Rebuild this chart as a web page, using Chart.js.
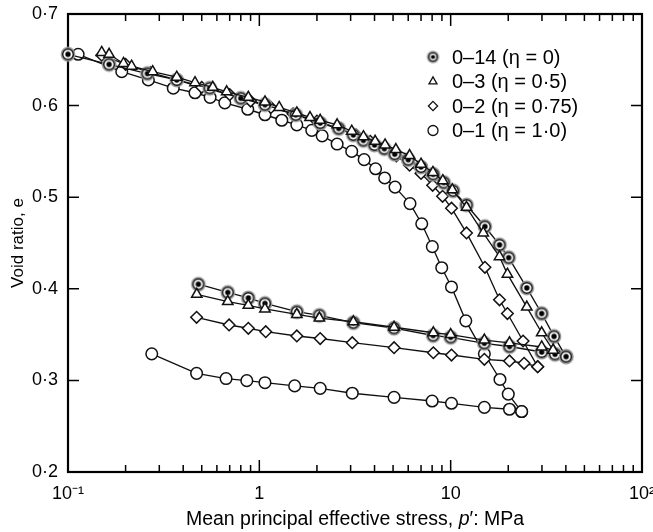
<!DOCTYPE html>
<html>
<head>
<meta charset="utf-8">
<script src="https://cdn.jsdelivr.net/npm/chart.js@4.4.1/dist/chart.umd.min.js"></script>
<style>
  html, body { margin: 0; padding: 0; background: #fff; }
</style>
</head>
<body>
<canvas id="chart" width="653" height="532"></canvas>
<script>
// Test 0-14 (eta = 0)
const pLoad14 = [0.1, 0.164, 0.26, 0.37, 0.55, 0.80, 1.07, 1.55, 2.08, 2.6, 3.1, 3.5, 4.0, 4.5, 5.1, 6.0, 7.0, 8.1, 9.2, 10.3, 12.1, 15.1, 18.0, 20.1, 25.0, 29.9, 34.7, 40.1];
const eLoad14 = [0.656, 0.645, 0.635, 0.628, 0.619, 0.608, 0.601, 0.590, 0.581, 0.575, 0.568, 0.562, 0.557, 0.553, 0.547, 0.541, 0.533, 0.525, 0.516, 0.507, 0.4915, 0.468, 0.448, 0.434, 0.401, 0.373, 0.348, 0.326];
const pUnload14 = [40.1, 35.1, 29.9, 20.3, 15.0, 10.0, 8.1, 5.06, 3.1, 2.06, 1.57, 1.07, 0.876, 0.684, 0.48];
const eUnload14 = [0.326, 0.3285, 0.331, 0.337, 0.3405, 0.347, 0.349, 0.357, 0.363, 0.371, 0.375, 0.384, 0.390, 0.396, 0.405];

// Test 0-3 (eta = 0.5)
const pLoad3 = [0.150, 0.164, 0.195, 0.215, 0.277, 0.370, 0.461, 0.571, 0.675, 0.876, 1.07, 1.27, 1.57, 1.84, 2.08, 2.55, 3.04, 3.50, 4.03, 4.54, 5.17, 6.10, 7.0, 8.08, 9.1, 10.2, 12.1, 14.8, 18.0, 19.8, 25.0, 29.9, 34.3];
const eLoad3 = [0.658, 0.656, 0.646, 0.643, 0.637, 0.631, 0.625, 0.620, 0.615, 0.609, 0.604, 0.598, 0.592, 0.587, 0.584, 0.579, 0.572, 0.566, 0.561, 0.557, 0.552, 0.5455, 0.536, 0.527, 0.518, 0.508, 0.489, 0.461, 0.435, 0.416, 0.380, 0.352, 0.333];
const pUnload3 = [34.3, 29.9, 20.3, 15.0, 10.0, 8.12, 5.06, 3.10, 2.06, 1.57, 1.07, 0.876, 0.684, 0.471];
const eUnload3 = [0.333, 0.3365, 0.341, 0.344, 0.350, 0.352, 0.358, 0.364, 0.368, 0.372, 0.378, 0.382, 0.386, 0.394];

// Test 0-2 (eta = 0.75)
const pLoad2 = [0.15, 0.2, 0.27, 0.37, 0.5, 0.7, 0.9, 1.15, 1.5, 2.0, 2.6, 3.2, 3.8, 4.5, 5.2, 6.1, 7.0, 8.05, 9.07, 10.1, 12.1, 15.1, 18.0, 19.8, 23.9, 28.5];
const eLoad2 = [0.655, 0.645, 0.636, 0.628, 0.620, 0.612, 0.605, 0.598, 0.591, 0.583, 0.575, 0.568, 0.561, 0.553, 0.545, 0.535, 0.526, 0.513, 0.501, 0.488, 0.461, 0.4235, 0.388, 0.373, 0.343, 0.315];
const pUnload2 = [28.5, 24.2, 20.3, 15.0, 10.1, 8.12, 5.06, 3.06, 2.08, 1.57, 1.08, 0.876, 0.695, 0.47];
const eUnload2 = [0.315, 0.3187, 0.3212, 0.323, 0.3277, 0.3302, 0.3357, 0.3412, 0.3457, 0.3485, 0.3532, 0.3569, 0.3605, 0.3689];

// Test 0-1 (eta = 1.0)
const pLoad1 = [0.113, 0.191, 0.263, 0.355, 0.461, 0.553, 0.66, 0.87, 1.07, 1.31, 1.57, 1.88, 2.13, 2.55, 3.04, 3.53, 4.05, 4.52, 5.12, 6.13, 7.06, 8.02, 8.98, 10.1, 12.0, 15.0, 18.1, 20.0, 23.5];
const eLoad1 = [0.656, 0.637, 0.628, 0.619, 0.614, 0.609, 0.603, 0.596, 0.590, 0.584, 0.579, 0.573, 0.567, 0.558, 0.550, 0.541, 0.531, 0.521, 0.511, 0.493, 0.471, 0.446, 0.423, 0.402, 0.365, 0.329, 0.301, 0.285, 0.266];
const pUnload1 = [23.5, 20.3, 15.0, 10.1, 8.0, 5.06, 3.06, 2.08, 1.53, 1.07, 0.86, 0.67, 0.47, 0.274];
const eUnload1 = [0.266, 0.2685, 0.2706, 0.275, 0.2775, 0.2815, 0.286, 0.2913, 0.294, 0.2975, 0.2997, 0.302, 0.3077, 0.329];

const legendLabels = ['0\u201314 (\u03b7 = 0)', '0\u20133 (\u03b7 = 0\u00b75)', '0\u20132 (\u03b7 = 0\u00b775)', '0\u20131 (\u03b7 = 1\u00b70)'];
const xTickValues = [0.1, 1, 10, 100];
const xTickLabels = ['10\u207b\u00b9', '1', '10', '10\u00b2'];
const yTickValues = [0.2, 0.3, 0.4, 0.5, 0.6, 0.7];

const FONT = '"Liberation Sans", Arial, Helvetica, sans-serif';
const INK = '#111';

// ringed marker with a solid centre, used for the eta = 0 test
function dotMarker(r) {
  const c = document.createElement('canvas');
  const s = Math.ceil(r * 2 + 6);
  c.width = s; c.height = s;
  const g = c.getContext('2d');
  const m = s / 2;
  g.fillStyle = '#fff';
  g.beginPath(); g.arc(m, m, r, 0, Math.PI * 2); g.fill();
  g.strokeStyle = '#9a9a9a'; g.lineWidth = 1.6;
  g.beginPath(); g.arc(m, m, r + 1, 0, Math.PI * 2); g.stroke();
  g.strokeStyle = INK; g.lineWidth = 1.4;
  g.beginPath(); g.arc(m, m, r - 0.3, 0, Math.PI * 2); g.stroke();
  g.fillStyle = '#000';
  g.beginPath(); g.arc(m, m, r * 0.48, 0, Math.PI * 2); g.fill();
  return c;
}
const dotBig = dotMarker(5.6);
const dotSmall = dotMarker(4.4);

const pts = (p, e) => p.map((v, i) => ({ x: v, y: e[i] }));

function series(p, e, style, radius, order) {
  return {
    data: pts(p, e),
    borderColor: INK,
    borderWidth: 1.35,
    pointStyle: style,
    pointRadius: radius,
    pointHoverRadius: radius,
    pointBackgroundColor: '#fff',
    pointBorderColor: INK,
    pointBorderWidth: 1.5,
    tension: 0,
    clip: false,
    order: order
  };
}

const datasets = [
  series(pLoad3, eLoad3, 'triangle', 6, 1),
  series(pUnload3, eUnload3, 'triangle', 6, 1),
  series(pLoad14, eLoad14, dotBig, 6, 2),
  series(pUnload14, eUnload14, dotBig, 6, 2),
  series(pLoad2, eLoad2, 'rectRot', 5.8, 3),
  series(pUnload2, eUnload2, 'rectRot', 5.8, 3),
  series(pLoad1, eLoad1, 'circle', 5.8, 4),
  series(pUnload1, eUnload1, 'circle', 5.8, 4)
];

// box frame and inward ticks on all four sides
const frame = {
  id: 'frame',
  beforeDatasetsDraw(chart) {
    const { ctx, chartArea: a, scales: { x, y } } = chart;
    ctx.save();
    ctx.strokeStyle = '#000';
    ctx.lineWidth = 1.5;
    ctx.beginPath();
    yTickValues.slice(1, -1).forEach(v => {
      const py = y.getPixelForValue(v);
      ctx.moveTo(a.left, py); ctx.lineTo(a.left + 11, py);
      ctx.moveTo(a.right, py); ctx.lineTo(a.right - 11, py);
    });
    for (let d = -1; d <= 1; d++) {
      for (let m = 1; m <= 9; m++) {
        if (d === -1 && m === 1) continue;
        const px = x.getPixelForValue(m * Math.pow(10, d));
        const len = m === 1 ? 12 : 7;
        ctx.moveTo(px, a.bottom); ctx.lineTo(px, a.bottom - len);
        ctx.moveTo(px, a.top); ctx.lineTo(px, a.top + len);
      }
    }
    ctx.stroke();
    ctx.lineWidth = 2.2;
    ctx.strokeRect(a.left, a.top, a.right - a.left, a.bottom - a.top);
    ctx.restore();
  },
  afterDraw(chart) {
    const { ctx, chartArea: a } = chart;
    ctx.save();
    // legend
    const rows = [57, 81.5, 106, 130.5];
    const mx = 433;
    ctx.fillStyle = '#000';
    ctx.font = '20px ' + FONT;
    ctx.textBaseline = 'middle';
    legendLabels.forEach((t, i) => ctx.fillText(t, 452, rows[i] + 1));
    ctx.strokeStyle = INK; ctx.lineWidth = 1.3; ctx.fillStyle = '#fff';
    ctx.drawImage(dotSmall, mx - dotSmall.width / 2, rows[0] - dotSmall.height / 2);
    const r = 4.6;
    ctx.beginPath();
    ctx.moveTo(mx, rows[1] - r);
    ctx.lineTo(mx + r * 0.866, rows[1] + r / 2);
    ctx.lineTo(mx - r * 0.866, rows[1] + r / 2);
    ctx.closePath(); ctx.fill(); ctx.stroke();
    ctx.beginPath();
    ctx.moveTo(mx, rows[2] - r); ctx.lineTo(mx + r, rows[2]);
    ctx.lineTo(mx, rows[2] + r); ctx.lineTo(mx - r, rows[2]);
    ctx.closePath(); ctx.fill(); ctx.stroke();
    ctx.beginPath(); ctx.arc(mx, rows[3], r + 0.4, 0, Math.PI * 2); ctx.fill(); ctx.stroke();

    // x axis title with italic p'
    const size = '19.5px ';
    const parts = [
      ['Mean principal effective stress, ', size + FONT],
      ['p', 'italic ' + size + FONT],
      ['\u2032: MPa', size + FONT]
    ];
    let w = 0;
    parts.forEach(([t, f]) => { ctx.font = f; w += ctx.measureText(t).width; });
    let tx = (a.left + a.right) / 2 - w / 2;
    ctx.fillStyle = '#000';
    ctx.textBaseline = 'alphabetic';
    parts.forEach(([t, f]) => { ctx.font = f; ctx.fillText(t, tx, 525); tx += ctx.measureText(t).width; });
    ctx.restore();
  }
};

new Chart(document.getElementById('chart'), {
  type: 'line',
  data: { datasets },
  options: {
    responsive: false,
    animation: false,
    events: [],
    layout: { padding: { top: 14, right: 11, left: 0, bottom: 0 } },
    plugins: { legend: { display: false }, tooltip: { enabled: false } },
    scales: {
      x: {
        type: 'logarithmic',
        min: 0.1,
        max: 100,
        grid: { display: false, drawTicks: false },
        border: { display: false },
        afterBuildTicks: s => { s.ticks = xTickValues.map(v => ({ value: v })); },
        afterFit: s => { s.height = 60; s.paddingLeft = 0; s.paddingRight = 0; },
        ticks: {
          autoSkip: false,
          maxRotation: 0,
          padding: 11,
          color: '#000',
          font: { family: FONT, size: 18 },
          callback: (v) => xTickLabels[xTickValues.indexOf(v)] ?? ''
        }
      },
      y: {
        min: 0.2,
        max: 0.7,
        grid: { display: false, drawTicks: false },
        border: { display: false },
        afterBuildTicks: s => { s.ticks = yTickValues.map(v => ({ value: v })); },
        afterFit: s => { s.width = 68; s.paddingTop = 0; s.paddingBottom = 0; },
        ticks: {
          padding: 10,
          color: '#000',
          font: { family: FONT, size: 18 },
          callback: v => v.toFixed(1).replace('.', '\u00b7')
        },
        title: {
          display: true,
          text: 'Void ratio, e',
          color: '#000',
          font: { family: FONT, size: 17 },
          padding: { top: 8, bottom: 0 }
        }
      }
    }
  },
  plugins: [frame]
});
</script>
</body>
</html>
